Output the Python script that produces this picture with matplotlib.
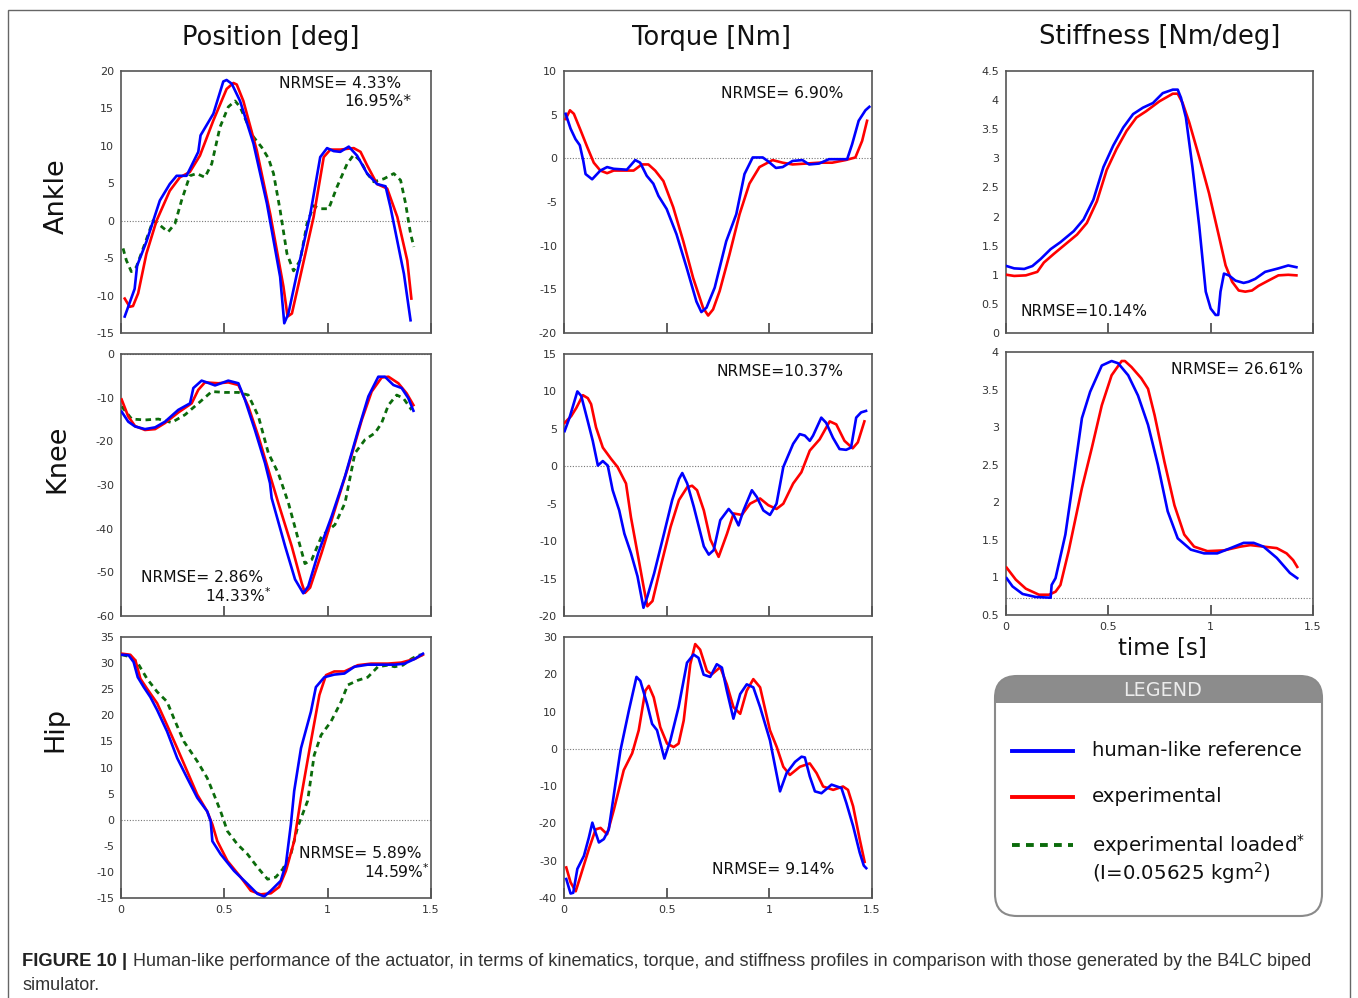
import numpy as np
import matplotlib.pyplot as plt
from matplotlib.patches import FancyBboxPatch, Rectangle
from matplotlib.lines import Line2D

# ---------------- datos ----------------
# Posicion tobillo [deg]
t_pa_ref = [0.018, 0.066, 0.078, 0.123, 0.188, 0.236, 0.269, 0.317, 0.374, 0.385, 0.447, 0.495, 0.511, 0.536,
            0.576, 0.641, 0.706, 0.770, 0.790, 0.810, 0.851, 0.916, 0.964, 0.997, 1.029, 1.061, 1.102, 1.142,
            1.191, 1.239, 1.280, 1.304, 1.369, 1.401]
y_pa_ref = [-12.8, -9.1, -6.0, -2.8, 2.7, 4.9, 6.0, 6.0, 9.2, 11.4, 14.3, 18.6, 18.8, 18.3, 16.0, 10.3, 2.3,
            -7.5, -13.7, -12.4, -7.1, 0.9, 8.5, 9.7, 9.3, 9.2, 9.9, 8.7, 6.3, 4.9, 4.6, 1.8, -7.1, -13.3]
t_pa_exp = [0.018, 0.042, 0.058, 0.083, 0.123, 0.172, 0.236, 0.285, 0.333, 0.382, 0.447, 0.511, 0.544, 0.560,
            0.592, 0.657, 0.722, 0.786, 0.806, 0.827, 0.867, 0.932, 0.981, 1.013, 1.061, 1.126, 1.159, 1.191,
            1.239, 1.288, 1.337, 1.385, 1.405]
y_pa_exp = [-10.4, -11.5, -11.4, -9.7, -4.4, 0.0, 4.0, 5.8, 6.5, 8.7, 13.4, 17.6, 18.4, 18.2, 16.0, 9.4, 0.9,
            -8.8, -12.8, -12.4, -7.5, 0.5, 8.5, 9.5, 9.5, 9.7, 9.2, 7.4, 4.9, 4.3, 0.5, -5.3, -10.4]
t_pa_load = [0.010, 0.026, 0.050, 0.074, 0.115, 0.155, 0.188, 0.228, 0.261, 0.293, 0.333, 0.366, 0.406, 0.439,
             0.479, 0.519, 0.552, 0.576, 0.608, 0.641, 0.681, 0.714, 0.738, 0.770, 0.803, 0.835, 0.867, 0.900,
             0.932, 0.964, 1.005, 1.045, 1.094, 1.126, 1.159, 1.191, 1.223, 1.272, 1.320, 1.353, 1.377, 1.401,
             1.417]
y_pa_load = [-3.7, -5.3, -6.8, -6.2, -3.1, 0.0, -0.6, -1.5, -0.4, 2.7, 6.0, 6.3, 5.8, 7.6, 12.5, 15.2, 16.0,
             15.2, 13.2, 11.2, 9.8, 8.3, 6.3, 1.4, -4.4, -6.7, -5.3, -0.4, 2.0, 1.6, 1.6, 4.5, 7.6, 8.8, 8.0,
             6.3, 5.2, 5.6, 6.3, 5.4, 2.3, -1.7, -3.5]

# Posicion rodilla [deg]
t_pk_ref = [0.003, 0.035, 0.068, 0.116, 0.165, 0.213, 0.277, 0.334, 0.350, 0.390, 0.415, 0.455, 0.519, 0.568,
            0.600, 0.648, 0.697, 0.721, 0.729, 0.794, 0.842, 0.882, 0.906, 0.955, 1.019, 1.084, 1.148, 1.197,
            1.245, 1.277, 1.318, 1.358, 1.390, 1.415]
y_pk_ref = [-13.2, -15.5, -16.6, -17.2, -16.8, -15.5, -12.8, -11.3, -7.8, -6.1, -6.5, -7.2, -6.1, -6.7, -10.5,
            -17.4, -25.0, -29.6, -33.0, -44.0, -51.6, -54.8, -53.2, -45.5, -37.2, -28.0, -17.4, -9.7, -5.2,
            -5.2, -7.1, -7.8, -10.1, -13.0]
t_pk_exp = [0.003, 0.035, 0.068, 0.116, 0.165, 0.213, 0.277, 0.342, 0.374, 0.406, 0.471, 0.519, 0.568, 0.616,
            0.665, 0.713, 0.761, 0.826, 0.874, 0.890, 0.915, 0.971, 1.035, 1.100, 1.165, 1.213, 1.261, 1.294,
            1.342, 1.382, 1.415]
y_pk_exp = [-10.4, -14.3, -16.5, -17.4, -17.2, -15.8, -13.4, -11.3, -8.2, -6.5, -6.7, -6.5, -7.1, -12.0, -18.9,
            -26.5, -34.1, -44.0, -52.4, -54.7, -53.5, -45.5, -35.6, -25.7, -15.1, -8.6, -5.4, -5.2, -6.7,
            -9.0, -11.7]
t_pk_load = [0.003, 0.052, 0.116, 0.181, 0.245, 0.310, 0.374, 0.439, 0.503, 0.568, 0.616, 0.665, 0.713, 0.761,
             0.810, 0.858, 0.890, 0.923, 0.971, 1.035, 1.084, 1.132, 1.181, 1.229, 1.261, 1.294, 1.334, 1.366,
             1.406]
y_pk_load = [-12.0, -14.9, -15.1, -14.9, -15.7, -13.9, -11.3, -8.6, -8.8, -8.8, -9.4, -14.3, -22.7, -27.3,
             -34.1, -42.5, -48.0, -47.1, -41.7, -39.1, -34.1, -22.7, -19.6, -18.1, -15.8, -11.7, -9.4, -10.1,
             -12.8]

# Posicion cadera [deg]
t_ph_ref = [0.005, 0.037, 0.061, 0.081, 0.110, 0.142, 0.175, 0.223, 0.272, 0.320, 0.369, 0.417, 0.434, 0.442,
            0.482, 0.547, 0.612, 0.660, 0.693, 0.725, 0.773, 0.798, 0.822, 0.838, 0.871, 0.919, 0.943, 0.984,
            1.032, 1.081, 1.129, 1.194, 1.259, 1.324, 1.372, 1.421, 1.461]
y_ph_ref = [31.6, 31.5, 30.2, 27.3, 25.4, 23.5, 21.0, 16.9, 11.8, 8.0, 4.2, 1.6, -0.3, -4.1, -6.6, -9.8,
            -12.3, -14.2, -14.7, -13.6, -11.7, -8.5, -0.9, 5.5, 13.7, 20.7, 25.4, 27.3, 27.8, 28.0, 29.3,
            29.7, 29.7, 29.7, 29.9, 30.8, 31.8]
t_ph_exp = [0.005, 0.045, 0.070, 0.094, 0.126, 0.175, 0.223, 0.272, 0.320, 0.369, 0.417, 0.442, 0.466, 0.515,
            0.579, 0.628, 0.676, 0.725, 0.765, 0.798, 0.838, 0.871, 0.919, 0.960, 0.992, 1.032, 1.081, 1.146,
            1.210, 1.291, 1.356, 1.421, 1.461]
y_ph_exp = [31.8, 31.6, 30.5, 27.0, 25.1, 22.3, 18.1, 13.7, 9.3, 4.8, 1.6, -0.9, -4.1, -7.9, -11.0, -13.6,
            -14.3, -14.1, -12.9, -9.8, -4.1, 4.2, 15.0, 23.9, 27.7, 28.4, 28.4, 29.6, 29.9, 29.9, 30.1, 30.8,
            31.6]
t_ph_load = [0.005, 0.045, 0.078, 0.126, 0.175, 0.223, 0.256, 0.304, 0.369, 0.417, 0.450, 0.482, 0.515, 0.563,
             0.612, 0.660, 0.709, 0.749, 0.782, 0.822, 0.854, 0.903, 0.935, 0.968, 1.016, 1.065, 1.097, 1.146,
             1.194, 1.243, 1.291, 1.324, 1.364, 1.405, 1.437, 1.461]
y_ph_load = [31.6, 31.2, 30.2, 27.0, 24.5, 22.6, 19.4, 15.0, 11.2, 8.0, 4.8, 1.6, -2.2, -4.7, -6.6, -9.1,
             -11.4, -11.0, -9.5, -6.6, -1.5, 3.6, 12.4, 16.2, 18.8, 22.6, 25.8, 26.7, 27.3, 29.3, 29.6, 29.3,
             29.6, 30.8, 31.5, 31.6]

# Par tobillo [Nm]
t_ta_ref = [0.008, 0.032, 0.056, 0.077, 0.094, 0.105, 0.137, 0.177, 0.210, 0.242, 0.306, 0.347, 0.371, 0.403,
            0.435, 0.460, 0.500, 0.548, 0.597, 0.645, 0.669, 0.694, 0.734, 0.790, 0.839, 0.879, 0.919, 0.968,
            0.992, 1.032, 1.065, 1.113, 1.161, 1.194, 1.242, 1.290, 1.339, 1.379, 1.403, 1.435, 1.468, 1.487]
y_ta_ref = [5.1, 3.4, 2.2, 1.5, -0.3, -1.8, -2.4, -1.4, -1.0, -1.2, -1.3, -0.2, -0.5, -2.0, -2.9, -4.3, -5.8,
            -8.7, -12.5, -16.4, -17.6, -17.1, -14.8, -9.5, -6.4, -1.8, 0.1, 0.1, -0.3, -1.1, -1.0, -0.3, -0.2,
            -0.7, -0.6, -0.1, -0.1, -0.1, 1.6, 4.3, 5.5, 5.9]
t_ta_exp = [0.008, 0.029, 0.048, 0.081, 0.113, 0.145, 0.177, 0.210, 0.242, 0.306, 0.339, 0.379, 0.411, 0.444,
            0.484, 0.532, 0.581, 0.629, 0.677, 0.702, 0.726, 0.758, 0.806, 0.855, 0.903, 0.952, 1.016, 1.065,
            1.113, 1.177, 1.242, 1.306, 1.371, 1.419, 1.452, 1.476]
y_ta_exp = [4.5, 5.5, 5.1, 3.2, 1.3, -0.5, -1.4, -1.7, -1.4, -1.4, -1.4, -0.7, -0.7, -1.4, -2.6, -5.6, -9.5,
            -13.7, -17.1, -18.0, -17.3, -15.2, -11.0, -6.4, -2.9, -1.0, -0.2, -0.5, -0.7, -0.6, -0.5, -0.5,
            -0.2, 0.1, 2.0, 4.3]

# Par rodilla [Nm]
t_tk_ref = [0.003, 0.027, 0.065, 0.084, 0.116, 0.140, 0.165, 0.189, 0.213, 0.237, 0.269, 0.294, 0.326, 0.358,
            0.387, 0.406, 0.439, 0.487, 0.527, 0.560, 0.576, 0.600, 0.632, 0.681, 0.705, 0.729, 0.761, 0.802,
            0.826, 0.850, 0.874, 0.915, 0.939, 0.971, 1.003, 1.035, 1.068, 1.116, 1.148, 1.173, 1.197, 1.213,
            1.253, 1.277, 1.310, 1.342, 1.374, 1.398, 1.423, 1.447, 1.471]
y_tk_ref = [4.7, 6.5, 10.0, 9.4, 6.0, 3.4, 0.1, 0.7, 0.1, -3.2, -5.9, -9.0, -11.6, -14.7, -18.9, -17.4, -14.3,
            -9.0, -4.5, -1.7, -0.9, -2.3, -5.4, -10.7, -11.8, -11.2, -7.2, -5.7, -6.5, -7.9, -5.9, -3.2, -4.1,
            -5.9, -6.5, -5.0, -0.1, 3.0, 4.3, 4.1, 3.4, 4.1, 6.5, 5.8, 3.8, 2.3, 2.2, 2.5, 6.5, 7.2, 7.4]
t_tk_exp = [0.003, 0.035, 0.060, 0.092, 0.116, 0.132, 0.156, 0.189, 0.229, 0.261, 0.302, 0.326, 0.358, 0.387,
            0.406, 0.431, 0.471, 0.519, 0.560, 0.600, 0.624, 0.648, 0.681, 0.713, 0.753, 0.794, 0.826, 0.866,
            0.906, 0.955, 0.995, 1.035, 1.068, 1.116, 1.156, 1.197, 1.245, 1.294, 1.326, 1.366, 1.406, 1.431,
            1.463]
y_tk_exp = [5.8, 6.7, 7.8, 9.5, 9.1, 8.3, 5.2, 2.5, 1.0, -0.1, -2.3, -6.8, -11.6, -16.0, -18.7, -18.0, -13.4,
            -8.1, -4.5, -2.8, -2.6, -3.2, -5.9, -9.8, -12.1, -9.0, -6.3, -6.5, -5.0, -4.3, -5.2, -5.7, -5.0,
            -2.3, -0.8, 2.1, 3.6, 6.0, 5.6, 3.4, 2.4, 3.2, 6.0]

# Par cadera [Nm]
t_th_ref = [0.011, 0.032, 0.045, 0.065, 0.097, 0.121, 0.138, 0.154, 0.170, 0.194, 0.218, 0.251, 0.275, 0.316,
            0.353, 0.372, 0.405, 0.429, 0.453, 0.489, 0.518, 0.558, 0.599, 0.631, 0.655, 0.680, 0.712, 0.744,
            0.769, 0.793, 0.825, 0.858, 0.890, 0.922, 0.955, 1.003, 1.052, 1.084, 1.125, 1.157, 1.173, 1.197,
            1.222, 1.254, 1.303, 1.351, 1.375, 1.408, 1.440, 1.460, 1.472]
y_th_ref = [-34.9, -38.8, -38.6, -32.2, -28.7, -23.8, -19.8, -22.5, -25.1, -24.2, -21.6, -9.2, -0.4, 10.3,
            19.3, 18.2, 12.0, 6.7, 5.0, -2.6, 2.3, 11.2, 23.1, 25.3, 24.4, 19.9, 19.3, 22.7, 21.8, 15.6, 8.1,
            14.7, 17.3, 16.5, 11.2, 2.3, -11.4, -6.5, -3.5, -2.1, -2.3, -7.4, -11.4, -11.9, -9.6, -10.5,
            -14.5, -20.7, -27.8, -31.3, -32.0]
t_th_exp = [0.011, 0.032, 0.057, 0.081, 0.121, 0.154, 0.178, 0.210, 0.243, 0.291, 0.332, 0.364, 0.396, 0.413,
            0.437, 0.469, 0.502, 0.534, 0.558, 0.583, 0.615, 0.639, 0.663, 0.696, 0.720, 0.761, 0.793, 0.825,
            0.858, 0.890, 0.922, 0.955, 1.003, 1.036, 1.068, 1.100, 1.149, 1.197, 1.230, 1.262, 1.311, 1.359,
            1.383, 1.408, 1.440, 1.464]
y_th_exp = [-31.8, -35.8, -38.2, -34.0, -26.9, -21.6, -21.2, -22.9, -16.3, -5.7, -1.2, 5.0, 15.6, 16.9, 13.8,
            5.8, 1.4, 0.5, 1.4, 7.6, 22.7, 28.1, 26.6, 20.9, 20.0, 21.9, 17.3, 11.2, 9.4, 15.6, 18.7, 16.5,
            5.0, 0.5, -4.8, -7.0, -4.8, -3.9, -6.5, -10.1, -11.0, -10.1, -11.0, -15.4, -24.2, -30.3]

# Rigidez tobillo [Nm/deg]
t_sa_ref = [0.003, 0.040, 0.089, 0.129, 0.169, 0.218, 0.266, 0.331, 0.379, 0.427, 0.476, 0.524, 0.573, 0.621,
            0.669, 0.718, 0.766, 0.815, 0.839, 0.855, 0.879, 0.911, 0.944, 0.976, 1.000, 1.024, 1.037, 1.048,
            1.065, 1.089, 1.121, 1.161, 1.185, 1.218, 1.266, 1.331, 1.379, 1.419]
y_sa_ref = [1.15, 1.11, 1.10, 1.15, 1.27, 1.44, 1.56, 1.75, 1.95, 2.29, 2.85, 3.22, 3.53, 3.76, 3.87, 3.95,
            4.12, 4.18, 4.18, 4.04, 3.70, 2.85, 1.84, 0.71, 0.42, 0.31, 0.31, 0.71, 1.02, 0.99, 0.90, 0.86,
            0.88, 0.93, 1.05, 1.11, 1.16, 1.13]
t_sa_exp = [0.003, 0.040, 0.097, 0.153, 0.185, 0.234, 0.282, 0.347, 0.395, 0.444, 0.492, 0.540, 0.589, 0.637,
            0.685, 0.750, 0.815, 0.839, 0.863, 0.895, 0.944, 0.992, 1.040, 1.073, 1.105, 1.137, 1.169, 1.202,
            1.234, 1.282, 1.331, 1.379, 1.419]
y_sa_exp = [1.00, 0.98, 0.99, 1.05, 1.21, 1.36, 1.50, 1.69, 1.89, 2.26, 2.80, 3.16, 3.47, 3.70, 3.81, 3.98,
            4.11, 4.11, 3.95, 3.62, 3.02, 2.40, 1.67, 1.16, 0.88, 0.73, 0.71, 0.73, 0.81, 0.90, 0.99, 1.00,
            0.99]

# Rigidez rodilla [Nm/deg]
t_sk_ref = [0.003, 0.032, 0.081, 0.145, 0.218, 0.223, 0.242, 0.290, 0.323, 0.371, 0.411, 0.468, 0.516, 0.548,
            0.597, 0.645, 0.694, 0.742, 0.790, 0.839, 0.903, 0.968, 1.032, 1.097, 1.161, 1.210, 1.258, 1.323,
            1.387, 1.423]
y_sk_ref = [0.99, 0.88, 0.78, 0.74, 0.73, 0.90, 0.99, 1.57, 2.19, 3.12, 3.47, 3.82, 3.88, 3.85, 3.69, 3.42,
            3.03, 2.50, 1.88, 1.52, 1.37, 1.32, 1.32, 1.39, 1.46, 1.46, 1.41, 1.26, 1.06, 0.99]
t_sk_exp = [0.003, 0.048, 0.097, 0.161, 0.210, 0.242, 0.266, 0.306, 0.371, 0.419, 0.468, 0.516, 0.565, 0.581,
            0.613, 0.661, 0.694, 0.726, 0.774, 0.823, 0.871, 0.919, 0.984, 1.065, 1.145, 1.194, 1.258, 1.323,
            1.371, 1.403, 1.423]
y_sk_exp = [1.13, 0.97, 0.85, 0.77, 0.77, 0.81, 0.90, 1.35, 2.19, 2.72, 3.29, 3.69, 3.88, 3.88, 3.80, 3.65,
            3.51, 3.16, 2.54, 1.96, 1.57, 1.41, 1.35, 1.36, 1.41, 1.43, 1.41, 1.39, 1.32, 1.23, 1.14]

col_titles = ['Position [deg]', 'Torque [Nm]', 'Stiffness [Nm/deg]']
row_titles = ['Ankle', 'Knee', 'Hip']
# (linea 1, x izq, y) y (linea 2, x der, y) en pixeles de la figura
nrmse_txt = [
    ('NRMSE= 4.33%', 279, 84, '16.95%*', 411, 101),
    ('NRMSE= 2.86%', 141, 578, '14.33%$^{*}$', 271, 596),
    ('NRMSE= 5.89%', 299, 853, '14.59%$^{*}$', 429, 872),
    ('NRMSE= 6.90%', 721, 93, None, 0, 0),
    ('NRMSE=10.37%', 716, 372, None, 0, 0),
    ('NRMSE= 9.14%', 712, 869, None, 0, 0),
    ('NRMSE=10.14%', 1020, 311, None, 0, 0),
    ('NRMSE= 26.61%', 1171, 369, None, 0, 0),
]
ylims = {(0, 0): (-15, 20, 5), (1, 0): (-60, 0, 10), (2, 0): (-15, 35, 5),
         (0, 1): (-20, 10, 5), (1, 1): (-20, 15, 5), (2, 1): (-40, 30, 10),
         (0, 2): (0, 4.5, 0.5), (1, 2): (0.5, 4, 0.5)}
legend_labels = ['human-like reference', 'experimental', 'experimental loaded$^{*}$']

C_REF = '#0000ff'
C_EXP = '#ff0000'
C_LOAD = '#0b6b0b'

W, H = 1358, 998
fig = plt.figure(figsize=(W / 100, H / 100), dpi=100)
plt.rcParams['font.family'] = ['DejaVu Sans']


def px(x, y):
    return x / W, 1 - y / H


cols = [(121, 431), (564, 872), (1006, 1313)]
rows = [(71, 333), (354, 616), (637, 898)]

curves = {
    (0, 0): [(t_pa_ref, y_pa_ref), (t_pa_exp, y_pa_exp), (t_pa_load, y_pa_load)],
    (1, 0): [(t_pk_ref, y_pk_ref), (t_pk_exp, y_pk_exp), (t_pk_load, y_pk_load)],
    (2, 0): [(t_ph_ref, y_ph_ref), (t_ph_exp, y_ph_exp), (t_ph_load, y_ph_load)],
    (0, 1): [(t_ta_ref, y_ta_ref), (t_ta_exp, y_ta_exp)],
    (1, 1): [(t_tk_ref, y_tk_ref), (t_tk_exp, y_tk_exp)],
    (2, 1): [(t_th_ref, y_th_ref), (t_th_exp, y_th_exp)],
    (0, 2): [(t_sa_ref, y_sa_ref), (t_sa_exp, y_sa_exp)],
    (1, 2): [(t_sk_ref, y_sk_ref), (t_sk_exp, y_sk_exp)],
}

for (r, c), data in curves.items():
    x0, x1 = cols[c]
    y0, y1 = rows[r]
    if (r, c) == (1, 2):
        y0, y1 = 352, 615
    ax = fig.add_axes([x0 / W, 1 - y1 / H, (x1 - x0) / W, (y1 - y0) / H])
    lo, hi, step = ylims[(r, c)]
    ax.set_xlim(0, 1.5)
    ax.set_ylim(lo, hi)
    ticks = np.arange(lo, hi + step / 2, step)
    ax.set_yticks(ticks)
    ax.set_yticklabels(['%g' % v for v in ticks])
    ax.set_xticks([0, 0.5, 1, 1.5])
    last = (r == 2) or (r, c) == (1, 2)
    if last:
        ax.set_xticklabels(['0', '0.5', '1', '1.5'])
    else:
        ax.set_xticklabels([])
    ax.tick_params(axis='x', direction='in', length=7, width=1.2, color='#444', labelsize=8,
                   labelcolor='#333', pad=5)
    ax.tick_params(axis='y', length=0, labelsize=8, labelcolor='#333', pad=5)
    for s in ax.spines.values():
        s.set_color('#555')
        s.set_linewidth(1.2)

    # linea de referencia punteada
    if c < 2:
        ax.axhline(0, color='#777', lw=0.8, ls=(0, (1, 1.5)), zorder=1)
    elif r == 1:
        ax.axhline(0.72, color='#777', lw=0.8, ls=(0, (1, 1.5)), zorder=1)

    styles = [dict(color=C_REF, lw=1.9, zorder=4), dict(color=C_EXP, lw=1.9, zorder=3),
              dict(color=C_LOAD, lw=2.0, ls=(0, (2, 1.6)), zorder=2)]
    for (t, y), st in zip(data, styles):
        ax.plot(t, y, **st)

for l1, xa, ya, l2, xb, yb in nrmse_txt:
    fig.text(*px(xa, ya), l1, fontsize=11.2, ha='left', va='center', color='#111')
    if l2:
        fig.text(*px(xb, yb), l2, fontsize=11.2, ha='right', va='center', color='#111')

# titulos de columna y fila
for (xc, yc), s in zip([(271, 38), (711, 38), (1160, 37)], col_titles):
    fig.text(*px(xc, yc), s, fontsize=18.5, ha='center', va='center', color='#111')
for (xc, yc), s in zip([(57, 196), (57, 459), (55, 730)], row_titles):
    fig.text(*px(xc, yc), s, fontsize=19.5, ha='center', va='center', rotation=90, color='#111')
fig.text(*px(1162, 649), 'time [s]', fontsize=16.5, ha='center', va='center', color='#111')

# caja exterior
fig.patches.append(Rectangle(px(8, 1010), (1350 - 8) / W, (1010 - 10) / H, transform=fig.transFigure,
                             fill=False, edgecolor='#666', lw=1.0, clip_on=False))

# leyenda
bx0, by0, bx1, by1 = 995, 676, 1322, 916
box = FancyBboxPatch((bx0, H - by1), bx1 - bx0, by1 - by0, boxstyle='round,pad=0,rounding_size=22',
                     transform=None, facecolor='white', edgecolor='none', zorder=5)
fig.patches.append(box)
head = FancyBboxPatch((bx0, H - by1), bx1 - bx0, by1 - by0, boxstyle='round,pad=0,rounding_size=22',
                      transform=None, facecolor='#8c8c8c', edgecolor='none', zorder=6)
clip = Rectangle((bx0 - 5, H - 703), bx1 - bx0 + 10, 703 - by0 + 5, transform=None)
head.set_clip_path(clip)
fig.patches.append(head)
edge = FancyBboxPatch((bx0, H - by1), bx1 - bx0, by1 - by0, boxstyle='round,pad=0,rounding_size=22',
                      transform=None, facecolor='none', edgecolor='#8a8a8a', lw=1.5, zorder=7)
fig.patches.append(edge)
fig.text(*px(1163, 690), 'LEGEND', fontsize=13.8, ha='center', va='center', color='#ececec', zorder=8)

leg_styles = [dict(color=C_REF, lw=2.8), dict(color=C_EXP, lw=2.8), dict(color=C_LOAD, lw=2.8, ls=(0, (2, 1.6)))]
for yy, st, lab in zip([751, 797, 845], leg_styles, legend_labels):
    fig.lines.append(Line2D([1012 / W, 1073 / W], [1 - yy / H, 1 - yy / H], transform=fig.transFigure,
                            zorder=8, **st))
    fig.text(*px(1092, yy), lab, fontsize=14.2, ha='left', va='center', color='#111', zorder=8)
fig.text(*px(1092, 873), '(I=0.05625 kgm$^{2}$)', fontsize=14.2, ha='left', va='center', color='#111',
         zorder=8)

# pie de figura
cap_font = ['Liberation Sans']
fig.text(*px(22, 961), 'FIGURE 10 |', fontsize=13.2, fontweight='bold', ha='left', va='center',
         family=cap_font, color='#222')
fig.text(*px(133, 961), 'Human-like performance of the actuator, in terms of kinematics, torque, and stiffness '
         'profiles in comparison with those generated by the B4LC biped', fontsize=13, ha='left', va='center',
         family=cap_font, color='#333')
fig.text(*px(22, 985), 'simulator.', fontsize=13, ha='left', va='center', family=cap_font, color='#333')

fig.savefig('out.png', dpi=100)
